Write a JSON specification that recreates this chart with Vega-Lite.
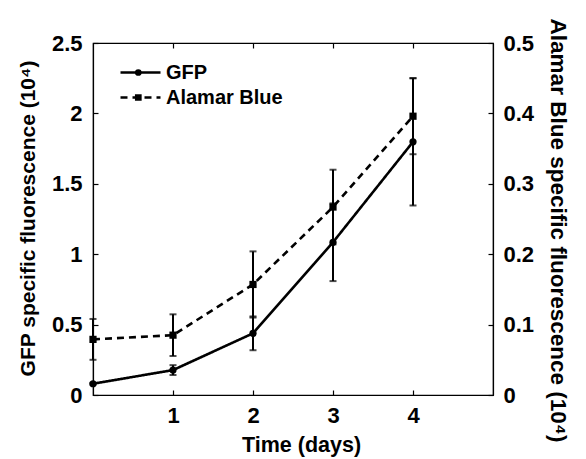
{
  "$schema": "https://vega.github.io/schema/vega-lite/v6.json",
  "width": 400,
  "height": 352,
  "autosize": {"type": "none"},
  "padding": {"left": 93, "top": 43, "right": 93, "bottom": 64},
  "background": "white",
  "config": {
    "view": {"stroke": "black", "strokeWidth": 1.2},
    "font": "Liberation Sans",
    "axis": {
      "grid": false,
      "domainColor": "black",
      "domainWidth": 1.2,
      "tickColor": "black",
      "tickWidth": 1.2,
      "tickSize": -5,
      "labelFont": "Liberation Sans",
      "labelFontWeight": "bold",
      "labelFontSize": 22,
      "labelColor": "black",
      "titleFont": "Liberation Sans",
      "titleFontWeight": "bold",
      "titleFontSize": 21.5,
      "titleColor": "black"
    },
    "legend": {
      "labelFont": "Liberation Sans",
      "labelFontWeight": "bold",
      "labelFontSize": 20,
      "labelColor": "black",
      "padding": 0
    }
  },
  "datasets": {
    "gfp": [
      {"day": 0, "series": "GFP", "value": 0.08, "err": 0.006},
      {"day": 1, "series": "GFP", "value": 0.177, "err": 0.035},
      {"day": 2, "series": "GFP", "value": 0.438, "err": 0.12},
      {"day": 3, "series": "GFP", "value": 1.085, "err": 0.276},
      {"day": 4, "series": "GFP", "value": 1.798, "err": 0.452}
    ],
    "alamar": [
      {"day": 0, "series": "Alamar Blue", "value": 0.079, "err": 0.029},
      {"day": 1, "series": "Alamar Blue", "value": 0.085, "err": 0.0296},
      {"day": 2, "series": "Alamar Blue", "value": 0.157, "err": 0.047},
      {"day": 3, "series": "Alamar Blue", "value": 0.267, "err": 0.053},
      {"day": 4, "series": "Alamar Blue", "value": 0.396, "err": 0.054}
    ]
  },
  "layer": [
    {
      "data": {"name": "gfp"},
      "encoding": {
        "x": {
          "field": "day", "type": "quantitative",
          "scale": {"domain": [0, 5], "nice": false},
          "axis": {"orient": "bottom", "values": [1, 2, 3, 4], "title": "Time (days)", "labelPadding": 15, "titleX": 208, "titleY": 56, "titleBaseline": "alphabetic", "titleAlign": "center"}
        },
        "y": {
          "field": "value", "type": "quantitative",
          "scale": {"domain": [0, 2.5], "nice": false},
          "axis": {"orient": "left", "values": [0, 0.5, 1, 1.5, 2, 2.5], "format": "~g", "title": "GFP specific fluorescence (10⁴)", "labelPadding": 16, "titleX": -65, "titleY": 175, "titleAngle": -90, "titleAlign": "center", "titleBaseline": "middle", "titleFontSize": 21}
        }
      },
      "layer": [
        {
          "mark": {"type": "errorbar", "ticks": {"size": 7, "thickness": 2, "color": "black"}, "thickness": 2, "color": "black"},
          "encoding": {"yError": {"field": "err"}}
        },
        {
          "mark": {"type": "line", "color": "black", "strokeWidth": 2.6},
          "encoding": {
            "strokeDash": {
              "field": "series", "type": "nominal",
              "scale": {"domain": ["GFP", "Alamar Blue"], "range": [[1, 0], [7, 5]]},
              "legend": {"title": null, "orient": "none", "legendX": 26, "legendY": 17, "symbolType": "stroke", "symbolSize": 1600, "symbolStrokeWidth": 2.5, "symbolStrokeColor": "black", "clipHeight": 25, "rowPadding": 0, "labelOffset": 4}
            }
          }
        },
        {
          "mark": {"type": "point", "filled": true, "color": "black", "opacity": 1, "size": 52},
          "encoding": {
            "shape": {
              "field": "series", "type": "nominal",
              "sort": ["GFP", "Alamar Blue"],
              "scale": {"range": ["circle", "square"]},
              "legend": {"title": null, "orient": "none", "legendX": 35.3, "legendY": 17, "symbolSize": 45, "symbolFillColor": "black", "symbolStrokeWidth": 0, "symbolOpacity": 1, "labelExpr": "''", "clipHeight": 25, "rowPadding": 0}
            }
          }
        }
      ]
    },
    {
      "data": {"name": "alamar"},
      "encoding": {
        "x": {
          "field": "day", "type": "quantitative",
          "scale": {"domain": [0, 5], "nice": false},
          "axis": {"orient": "top", "values": [1, 2, 3, 4], "labels": false, "title": null, "domain": false}
        },
        "y": {
          "field": "value", "type": "quantitative",
          "scale": {"domain": [0, 0.5], "nice": false},
          "axis": {"orient": "right", "values": [0, 0.1, 0.2, 0.3, 0.4, 0.5], "format": "~g", "title": "Alamar Blue specific fluorescence (10⁴)", "labelPadding": 15, "titleX": 64, "titleY": 187, "titleAngle": 90, "titleAlign": "center", "titleBaseline": "middle", "titleFontSize": 22.5}
        }
      },
      "layer": [
        {
          "mark": {"type": "errorbar", "ticks": {"size": 7, "thickness": 2, "color": "black"}, "thickness": 2, "color": "black"},
          "encoding": {"yError": {"field": "err"}}
        },
        {
          "mark": {"type": "line", "color": "black", "strokeWidth": 2.6},
          "encoding": {
            "strokeDash": {"field": "series", "type": "nominal"}
          }
        },
        {
          "mark": {"type": "point", "filled": true, "color": "black", "opacity": 1, "size": 52},
          "encoding": {
            "shape": {"field": "series", "type": "nominal", "sort": ["GFP", "Alamar Blue"]}
          }
        }
      ]
    }
  ],
  "resolve": {"scale": {"y": "independent"}, "axis": {"x": "independent"}}
}
